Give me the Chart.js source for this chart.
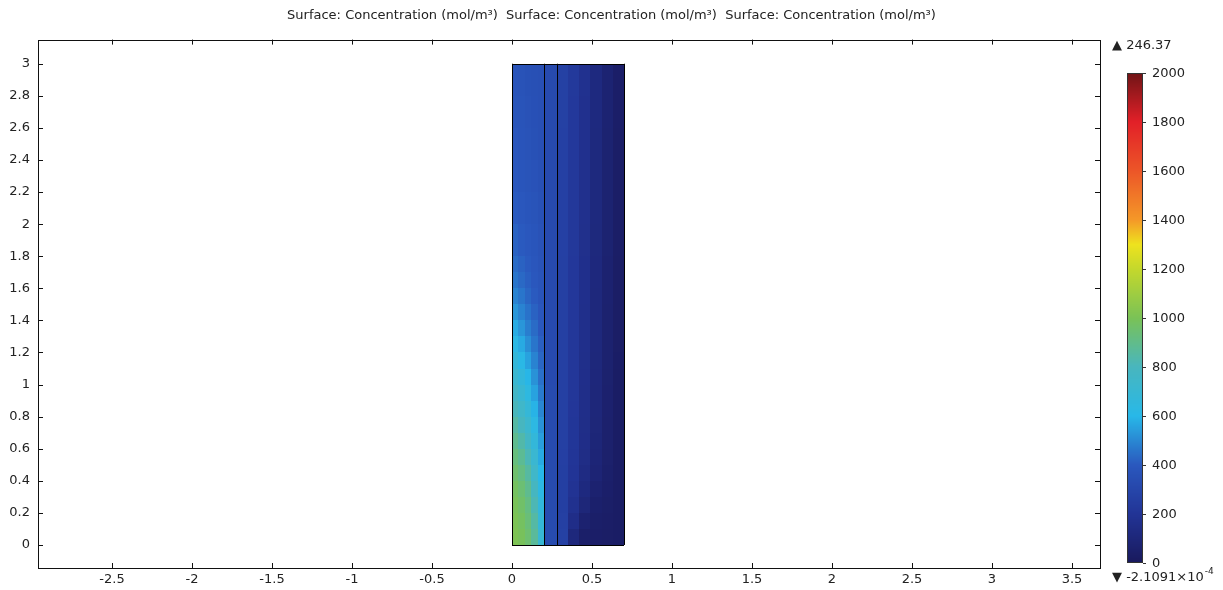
<!DOCTYPE html>
<html>
<head>
<meta charset="utf-8">
<script src="https://cdn.jsdelivr.net/npm/chart.js@4"></script>
<style>
  body { margin: 0; background: #fff; }
  canvas { display: block; }
</style>
</head>
<body>
<canvas id="surfaceChart" width="1223" height="590"></canvas>
<script>
// surface data: cell edges (m) and concentration (mol/m^3), rows from bottom to top
const xEdges = [0, 0.04, 0.08, 0.12, 0.16, 0.2, 0.28, 0.35, 0.42, 0.49, 0.56, 0.63, 0.7];
const yEdges = [0, 0.1, 0.2, 0.3, 0.4, 0.5, 0.6, 0.7, 0.8, 0.9, 1.0, 1.1, 1.2, 1.3, 1.4, 1.5,
  1.6, 1.7, 1.8, 2.0, 2.2, 2.4, 2.6, 2.8, 3.0];
const conc = [
  [1010, 990, 950, 870, 700, 325, 270, 110, 45, 40, 35, 30],
  [1005, 980, 935, 850, 680, 325, 265, 150, 70, 45, 38, 30],
  [995, 965, 915, 820, 660, 325, 262, 175, 100, 55, 42, 30],
  [980, 945, 890, 790, 630, 325, 262, 190, 120, 70, 48, 30],
  [955, 915, 855, 750, 600, 325, 262, 200, 135, 85, 52, 30],
  [925, 880, 815, 710, 570, 325, 263, 205, 145, 92, 56, 30],
  [890, 840, 770, 670, 545, 325, 264, 210, 150, 98, 58, 30],
  [850, 795, 725, 630, 520, 325, 264, 212, 152, 100, 60, 30],
  [805, 750, 680, 590, 495, 325, 264, 213, 154, 102, 61, 30],
  [760, 705, 640, 555, 470, 325, 265, 214, 156, 104, 62, 31],
  [715, 660, 595, 520, 450, 324, 265, 215, 158, 106, 63, 32],
  [670, 615, 555, 490, 430, 324, 265, 216, 160, 108, 64, 33],
  [620, 570, 515, 460, 415, 323, 266, 216, 161, 109, 65, 34],
  [575, 530, 480, 440, 400, 323, 266, 217, 162, 110, 66, 34],
  [530, 490, 455, 420, 390, 322, 266, 218, 163, 111, 67, 35],
  [490, 460, 430, 405, 380, 322, 267, 218, 164, 112, 68, 35],
  [460, 435, 415, 395, 375, 322, 267, 219, 165, 113, 69, 36],
  [440, 420, 405, 390, 370, 321, 267, 219, 166, 114, 70, 36],
  [420, 405, 395, 385, 365, 321, 268, 220, 167, 115, 71, 37],
  [405, 395, 385, 375, 360, 320, 268, 221, 169, 116, 72, 38],
  [395, 385, 375, 368, 355, 320, 269, 222, 170, 117, 73, 38],
  [388, 380, 370, 362, 352, 320, 269, 223, 172, 118, 74, 39],
  [382, 375, 366, 358, 350, 320, 270, 224, 173, 119, 75, 40],
  [378, 370, 362, 355, 348, 320, 270, 225, 175, 120, 76, 40]
];
// domain boundaries drawn as black lines
const domainX = [0, 0.2, 0.28, 0.7];
const domainY = [0, 3];

const xTicks = [-2.5, -2, -1.5, -1, -0.5, 0, 0.5, 1, 1.5, 2, 2.5, 3, 3.5];
const yTicks = [0, 0.2, 0.4, 0.6, 0.8, 1, 1.2, 1.4, 1.6, 1.8, 2, 2.2, 2.4, 2.6, 2.8, 3];
const colorTicks = [0, 200, 400, 600, 800, 1000, 1200, 1400, 1600, 1800, 2000];
const maxLabel = '246.37';
const minLabel = '-2.1091\u00d710';
const minExp = '-4';

// rainbow colour table
const cmapVals = [0, 200, 400, 600, 800, 1000, 1200, 1300, 1400, 1600, 1800, 2000];
const cmapCols = [
  [25, 25, 92], [34, 52, 150], [42, 88, 190], [40, 184, 232], [72, 182, 190],
  [122, 194, 86], [196, 216, 44], [238, 226, 30], [244, 152, 40], [236, 86, 40],
  [226, 32, 40], [112, 20, 22]
];

function colorFor(v) {
  if (v <= cmapVals[0]) return 'rgb(' + cmapCols[0].join(',') + ')';
  for (let i = 1; i < cmapVals.length; i++) {
    if (v <= cmapVals[i]) {
      const t = (v - cmapVals[i - 1]) / (cmapVals[i] - cmapVals[i - 1]);
      const a = cmapCols[i - 1], b = cmapCols[i];
      return 'rgb(' + a.map((c, k) => Math.round(c + (b[k] - c) * t)).join(',') + ')';
    }
  }
  return 'rgb(' + cmapCols[cmapCols.length - 1].join(',') + ')';
}

const FONT = 'DejaVu Sans';

const surfacePlugin = {
  id: 'surface',
  beforeDatasetsDraw(chart) {
    const { ctx, scales: { x, y } } = chart;
    ctx.save();
    for (let r = 0; r < conc.length; r++) {
      const y0 = Math.round(y.getPixelForValue(yEdges[r]));
      const y1 = Math.round(y.getPixelForValue(yEdges[r + 1]));
      for (let c = 0; c < conc[r].length; c++) {
        const x0 = Math.round(x.getPixelForValue(xEdges[c]));
        const x1 = Math.round(x.getPixelForValue(xEdges[c + 1]));
        ctx.fillStyle = colorFor(conc[r][c]);
        ctx.fillRect(x0, y1, x1 - x0, y0 - y1);
      }
    }
    // domain outlines
    ctx.strokeStyle = '#000';
    ctx.lineWidth = 1;
    const top = y.getPixelForValue(domainY[1]);
    const bot = y.getPixelForValue(domainY[0]);
    domainX.forEach(v => {
      const px = Math.round(x.getPixelForValue(v)) + 0.5;
      ctx.beginPath();
      ctx.moveTo(px, top);
      ctx.lineTo(px, bot);
      ctx.stroke();
    });
    const l = x.getPixelForValue(domainX[0]);
    const rr = x.getPixelForValue(domainX[domainX.length - 1]);
    ctx.beginPath();
    ctx.moveTo(l, Math.round(top) + 0.5);
    ctx.lineTo(rr, Math.round(top) + 0.5);
    ctx.moveTo(l, Math.round(bot) + 0.5);
    ctx.lineTo(rr, Math.round(bot) + 0.5);
    ctx.stroke();
    ctx.restore();
  },
  afterDraw(chart) {
    const { ctx, chartArea: a, scales: { x, y } } = chart;
    ctx.save();
    // frame and inward ticks
    ctx.strokeStyle = '#111';
    ctx.lineWidth = 1;
    ctx.strokeRect(Math.round(a.left) + 0.5, Math.round(a.top) + 0.5,
      Math.round(a.right - a.left), Math.round(a.bottom - a.top));
    ctx.beginPath();
    xTicks.forEach(v => {
      const px = Math.round(x.getPixelForValue(v)) + 0.5;
      ctx.moveTo(px, a.bottom); ctx.lineTo(px, a.bottom - 5);
      ctx.moveTo(px, a.top); ctx.lineTo(px, a.top + 5);
    });
    yTicks.forEach(v => {
      const py = Math.round(y.getPixelForValue(v)) + 0.5;
      ctx.moveTo(a.left, py); ctx.lineTo(a.left + 5, py);
      ctx.moveTo(a.right, py); ctx.lineTo(a.right - 5, py);
    });
    ctx.stroke();

    // colour legend
    const cbL = 1127, cbR = 1143, cbT = 73, cbB = 563;
    const cy = v => cbB - (v - colorTicks[0]) / (colorTicks[colorTicks.length - 1] - colorTicks[0]) * (cbB - cbT);
    for (let py = cbT; py < cbB; py++) {
      const v = colorTicks[0] + (cbB - py - 0.5) / (cbB - cbT) * (colorTicks[colorTicks.length - 1] - colorTicks[0]);
      ctx.fillStyle = colorFor(v);
      ctx.fillRect(cbL, py, cbR - cbL, 1);
    }
    ctx.strokeStyle = '#333';
    ctx.strokeRect(cbL + 0.5, cbT + 0.5, cbR - cbL - 1, cbB - cbT - 1);
    ctx.fillStyle = '#222';
    ctx.font = '13px ' + FONT;
    ctx.textBaseline = 'middle';
    ctx.textAlign = 'left';
    ctx.beginPath();
    colorTicks.forEach(v => {
      const py = Math.round(cy(v)) + 0.5;
      ctx.moveTo(cbR, py); ctx.lineTo(cbR + 3, py);
      ctx.fillText(String(v), cbR + 9, cy(v) + 1);
    });
    ctx.stroke();

    // max / min markers
    ctx.fillText('\u25b2 ' + maxLabel, 1112, 46);
    const minText = '\u25bc ' + minLabel;
    ctx.fillText(minText, 1112, 578);
    const w = ctx.measureText(minText).width;
    ctx.font = '9px ' + FONT;
    ctx.fillText(minExp, 1112 + w + 1, 572);
    ctx.restore();
  }
};

const fmt = v => String(Number(v.toFixed(2)));

new Chart(document.getElementById('surfaceChart'), {
  type: 'scatter',
  data: { datasets: [{ data: [] }] },
  options: {
    responsive: false,
    animation: false,
    devicePixelRatio: 1,
    layout: { padding: { left: 0, right: 0, top: 0, bottom: 0 } },
    plugins: {
      legend: { display: false },
      tooltip: { enabled: false },
      title: {
        display: true,
        text: 'Surface: Concentration (mol/m\u00b3)  Surface: Concentration (mol/m\u00b3)  Surface: Concentration (mol/m\u00b3)',
        color: '#222',
        font: { family: FONT, size: 13, weight: 'normal' },
        padding: { top: 8, bottom: 16 }
      }
    },
    scales: {
      x: {
        type: 'linear',
        min: -2.9625,
        max: 3.675,
        grid: { display: false, drawTicks: false },
        border: { display: false },
        afterBuildTicks: s => { s.ticks = xTicks.map(v => ({ value: v })); },
        afterFit: s => { s.height = 22; },
        ticks: {
          autoSkip: false,
          maxRotation: 0,
          padding: 4,
          color: '#222',
          font: { family: FONT, size: 13 },
          callback: v => fmt(v)
        }
      },
      y: {
        type: 'linear',
        position: 'left',
        min: -0.1435,
        max: 3.1505,
        grid: { display: false, drawTicks: false },
        border: { display: false },
        afterBuildTicks: s => { s.ticks = yTicks.map(v => ({ value: v })); },
        afterFit: s => { s.width = 38; },
        ticks: {
          autoSkip: false,
          padding: 8,
          color: '#222',
          font: { family: FONT, size: 13 },
          callback: v => fmt(v)
        }
      },
      legendSpace: {
        type: 'linear',
        position: 'right',
        display: true,
        grid: { display: false, drawTicks: false },
        border: { display: false },
        ticks: { display: false },
        afterFit: s => { s.width = 123; }
      }
    }
  },
  plugins: [surfacePlugin]
});
</script>
</body>
</html>
